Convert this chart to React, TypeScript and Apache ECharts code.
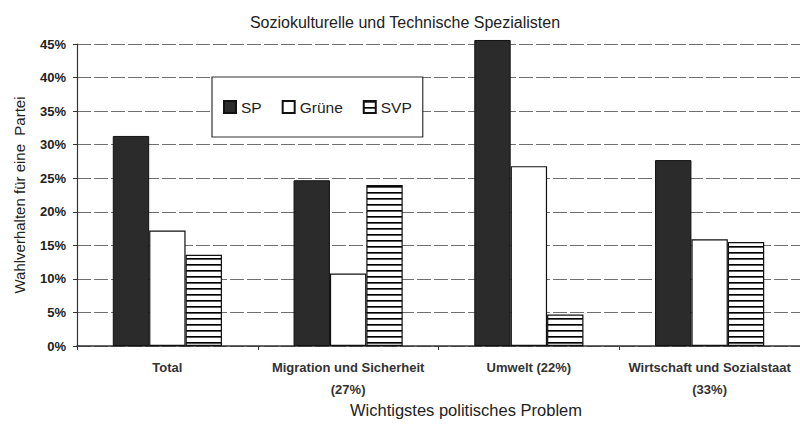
import React, { useEffect, useRef } from "react";
import * as echarts from "echarts";

const categories = ["Total", "Migration und Sicherheit\n(27%)", "Umwelt (22%)", "Wirtschaft und Sozialstaat\n(33%)"];
const spValues = [31.3, 24.7, 45.6, 27.7];
const grueneValues = [17.2, 10.8, 26.8, 15.9];
const svpValues = [13.6, 24.0, 4.7, 15.5];
const yTicks = [0, 5, 10, 15, 20, 25, 30, 35, 40, 45];

const FONT = "Liberation Sans, Arial, sans-serif";

function makeStripes(): HTMLCanvasElement {
  const c = document.createElement("canvas");
  c.width = 6;
  c.height = 6;
  const ctx = c.getContext("2d")!;
  ctx.fillStyle = "#ffffff";
  ctx.fillRect(0, 0, 6, 6);
  ctx.fillStyle = "#000000";
  ctx.fillRect(0, 0, 6, 1);
  ctx.fillStyle = "#555555";
  ctx.fillRect(0, 1, 6, 1);
  return c;
}

export default function App() {
  const ref = useRef<HTMLDivElement>(null);
  useEffect(() => {
    if (!ref.current) return;
    const chart = echarts.init(ref.current, null, { renderer: "svg" });
    const stripes = makeStripes();
    const yMax = yTicks[yTicks.length - 1];
    chart.setOption({
      animation: false,
      backgroundColor: "#ffffff",
      textStyle: { fontFamily: FONT },
      title: [
        {
          text: "Soziokulturelle und Technische Spezialisten",
          left: 400,
          textAlign: "center",
          top: 9,
          textStyle: { fontSize: 16, fontWeight: "normal", color: "#222", fontFamily: FONT },
        },
        {
          text: "Wichtigstes politisches Problem",
          left: 461,
          textAlign: "center",
          top: 396,
          textStyle: { fontSize: 16.5, fontWeight: "normal", color: "#222", fontFamily: FONT },
        },
      ],
      legend: {
        left: 212,
        top: 77,
        orient: "horizontal",
        backgroundColor: "#ffffff",
        borderColor: "#333",
        borderWidth: 1.2,
        padding: [22, 11, 22, 11],
        itemGap: 20,
        itemWidth: 12,
        itemHeight: 12,
        icon: "rect",
        textStyle: { fontSize: 15.5, color: "#222", fontFamily: FONT },
        data: ["SP", "Grüne", "SVP"],
        z: 10,
      },
      grid: { left: 77, right: -2, top: 44, bottom: 86, containLabel: false },
      xAxis: {
        type: "category",
        data: categories,
        axisLine: { show: true, lineStyle: { color: "#333", width: 1.5 } },
        axisTick: { show: true, length: 4, lineStyle: { color: "#333" } },
        axisLabel: {
          fontSize: 13,
          fontWeight: "bold",
          color: "#333",
          margin: 10,
          lineHeight: 22,
          interval: 0,
          fontFamily: FONT,
        },
        splitLine: { show: false },
      },
      yAxis: {
        type: "value",
        min: 0,
        max: yMax,
        interval: 5,
        axisLine: { show: true, lineStyle: { color: "#333", width: 1.2 } },
        axisTick: { show: true, length: 4, lineStyle: { color: "#333" } },
        axisLabel: { formatter: "{value}%", fontSize: 13, fontWeight: "bold", color: "#222", margin: 11, fontFamily: FONT },
        splitLine: { show: true, lineStyle: { color: "#6f6f6f", width: 1, type: [14, 3] } },
        name: "Wahlverhalten für eine  Partei",
        nameLocation: "middle",
        nameGap: 50,
        nameTextStyle: { fontSize: 15, color: "#222", fontFamily: FONT },
      },
      series: [
        {
          name: "SP",
          type: "bar",
          data: spValues,
          barGap: "0%",
          barCategoryGap: "39.6%",
          clip: false,
          itemStyle: { color: "#2b2b2b", borderColor: "#111", borderWidth: 1 },
        },
        {
          name: "Grüne",
          type: "bar",
          data: grueneValues,
          barGap: "0%",
          barCategoryGap: "39.6%",
          itemStyle: { color: "#ffffff", borderColor: "#111", borderWidth: 1.2 },
        },
        {
          name: "SVP",
          type: "bar",
          data: svpValues,
          barGap: "0%",
          barCategoryGap: "39.6%",
          itemStyle: { color: { image: stripes, repeat: "repeat" } as any, borderColor: "#111", borderWidth: 1.2 },
        },
      ],
    });
    return () => chart.dispose();
  }, []);
  return <div ref={ref} style={{ width: 800, height: 432, position: "absolute", left: 0, top: 0 }} />;
}
